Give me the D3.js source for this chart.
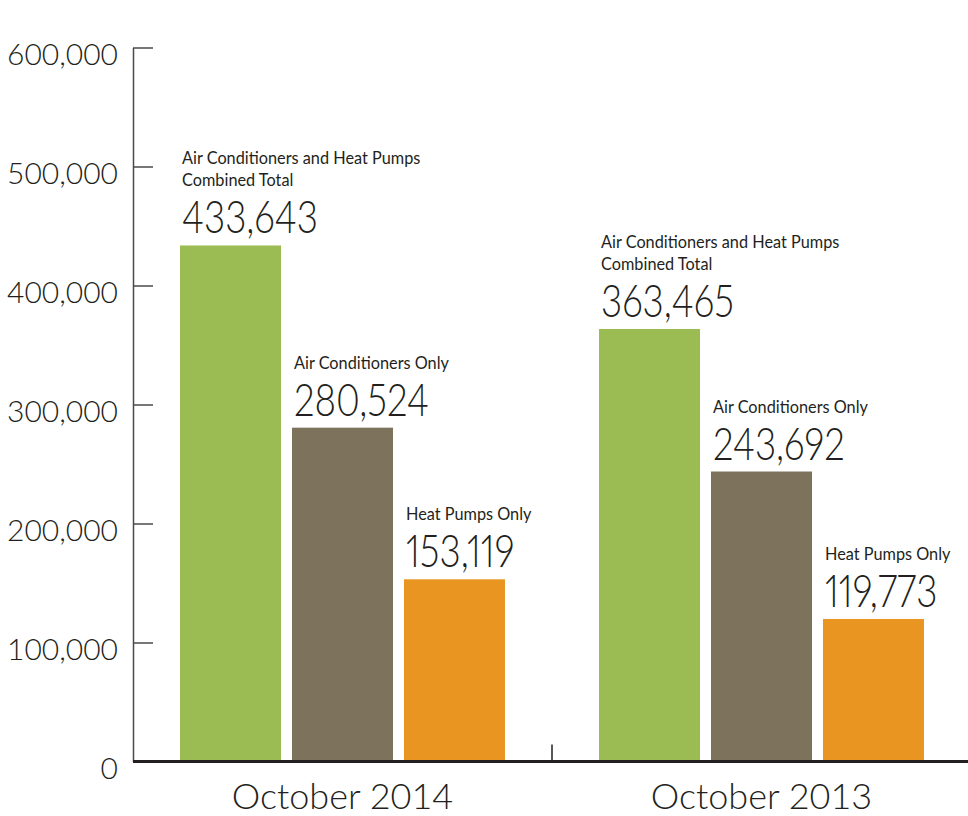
<!DOCTYPE html>
<html>
<head>
<meta charset="utf-8">
<script src="https://cdn.jsdelivr.net/npm/d3@7"></script>
<style>
	html, body { margin: 0; padding: 0; background: #fff; }
	text { font-family: Lato, "Open Sans", sans-serif; font-weight: 300; fill: #231f20; }
	.num { font-variant-numeric: proportional-nums; }
</style>
</head>
<body>
<div id="chart"></div>
<script>
// chart data
const categories = ["October 2014", "October 2013"];
const seriesNames = ["combined", "acOnly", "hpOnly"];
const seriesLabels = [
	["Air Conditioners and Heat Pumps", "Combined Total"],
	["Air Conditioners Only"],
	["Heat Pumps Only"]
];
const values2014 = [433643, 280524, 153119];
const values2013 = [363465, 243692, 119773];
const yTicks = [0, 100000, 200000, 300000, 400000, 500000, 600000];
const colors = ["#9bbb53", "#7d735c", "#e99522"];

const width = 968, height = 816;
const margin = {top: 47.5, left: 133, bottom: 54.5};

let sourceData = categories.map((c, i) => ({
	category: c,
	values: (i === 0 ? values2014 : values2013).map((v, j) => ({
		series: seriesNames[j], value: v, label: seriesLabels[j], color: colors[j]
	}))
}));

let svg = d3.select("#chart").append("svg")
	.attr("width", width)
	.attr("height", height);

// scales
let x0 = d3.scaleBand()
	.domain(categories)
	.range([margin.left, 971]);

let x1 = d3.scaleBand()
	.domain(seriesNames)
	.range([0, x0.bandwidth()])
	.paddingInner(0.098)
	.paddingOuter(0.42);

let y = d3.scaleLinear()
	.domain([0, 600000])
	.range([height - margin.bottom, margin.top]);

// y axis: line + inward ticks
let yAxis = svg.append("g")
	.attr("transform", `translate(${margin.left},0)`)
	.call(d3.axisRight(y).tickValues(yTicks).tickSize(20).tickSizeOuter(0).tickFormat(""));
yAxis.selectAll("path, line").attr("stroke", "#4a4a4a").attr("stroke-width", 1.5);

yAxis.selectAll(".tick").append("text")
	.attr("x", -15)
	.attr("y", 6)
	.attr("dy", "0.35em")
	.attr("text-anchor", "end")
	.style("font-size", "30px")
	.text(d => d3.format(",")(d));

// bars
let groups = svg.selectAll(".group")
	.data(sourceData)
	.join("g")
	.attr("class", "group")
	.attr("transform", d => `translate(${x0(d.category)},0)`);

groups.selectAll("rect")
	.data(d => d.values)
	.join("rect")
	.attr("x", d => x1(d.series))
	.attr("y", d => y(d.value))
	.attr("width", x1.bandwidth())
	.attr("height", d => y(0) - y(d.value))
	.attr("fill", d => d.color);

// value labels
let labels = groups.selectAll(".lbl")
	.data(d => d.values)
	.join("g")
	.attr("class", "lbl")
	.attr("transform", d => `translate(${x1(d.series) + 2},${y(d.value) - 12})`);

// digits in the original are narrow, squeeze them horizontally
labels.append("text")
	.attr("class", "num")
	.attr("transform", "scale(0.8,1)")
	.style("font-size", "46px")
	.text(d => d3.format(",")(d.value));

labels.each(function(d) {
	let g = d3.select(this);
	let n = d.label.length;
	d.label.forEach((line, k) => {
		g.append("text")
			.attr("y", -47 - (n - 1 - k) * 22)
			.style("font-size", "16.3px")
			.style("font-weight", 400)
			.text(line);
	});
});

// baseline + separator tick
svg.append("line")
	.attr("x1", margin.left).attr("x2", width)
	.attr("y1", y(0)).attr("y2", y(0))
	.attr("stroke", "#231f20").attr("stroke-width", 3);

svg.append("line")
	.attr("x1", x0(categories[1])).attr("x2", x0(categories[1]))
	.attr("y1", y(0) - 17).attr("y2", y(0))
	.attr("stroke", "#231f20").attr("stroke-width", 1.5);

// category labels
svg.selectAll(".cat")
	.data(categories)
	.join("text")
	.attr("class", "cat")
	.attr("x", d => x0(d) + x0.bandwidth() / 2)
	.attr("y", 809)
	.attr("text-anchor", "middle")
	.style("font-size", "36px")
	.text(d => d);
</script>
</body>
</html>
